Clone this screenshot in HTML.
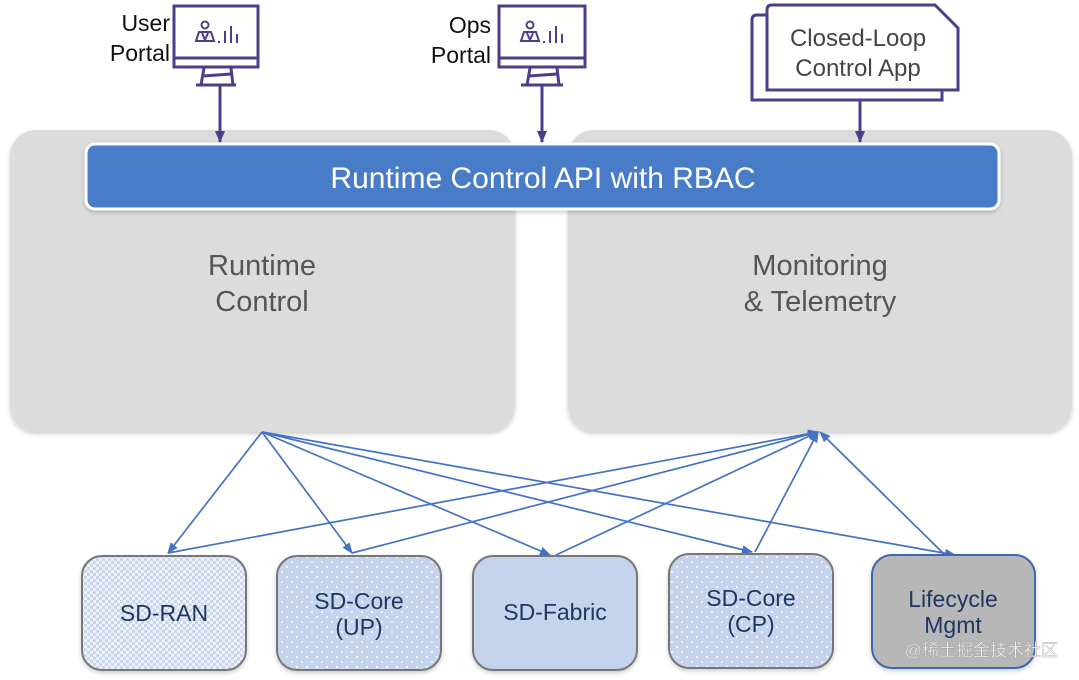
<!DOCTYPE html>
<html><head><meta charset="utf-8"><style>
html,body{margin:0;padding:0;background:#fff;width:1079px;height:680px;overflow:hidden}
</style></head><body>
<svg width="1079" height="680" viewBox="0 0 1079 680" xmlns="http://www.w3.org/2000/svg" font-family="Liberation Sans, sans-serif">
<defs>
<filter id="sh" x="-5%" y="-5%" width="110%" height="115%"><feDropShadow dx="0" dy="2" stdDeviation="2" flood-color="#000" flood-opacity="0.2"/></filter>
<pattern id="chk" width="6" height="6" patternUnits="userSpaceOnUse"><rect width="6" height="6" fill="#eef2fa"/><rect width="3" height="3" fill="#c9d6ee"/><rect x="3" y="3" width="3" height="3" fill="#c9d6ee"/></pattern>
<pattern id="dot" width="10" height="10" patternUnits="userSpaceOnUse"><rect width="10" height="10" fill="#c5d4ec"/><circle cx="2" cy="2" r="1" fill="#fff"/><circle cx="7" cy="7" r="1" fill="#fff"/></pattern>
<marker id="ab" markerWidth="11" markerHeight="9" refX="10" refY="4.5" orient="auto" markerUnits="userSpaceOnUse"><path d="M0,0 L11,4.5 L0,9 z" fill="#4472c4"/></marker>
<marker id="ap" markerWidth="12" markerHeight="10" refX="11" refY="5" orient="auto" markerUnits="userSpaceOnUse"><path d="M0,0 L12,5 L0,10 z" fill="#4f3d8a"/></marker>
</defs>
<rect x="10" y="130" width="505" height="302" rx="26" fill="#dcdcdc" filter="url(#sh)"/>
<rect x="568" y="130" width="504" height="302" rx="26" fill="#dcdcdc" filter="url(#sh)"/>
<rect x="86" y="144" width="913" height="65" rx="9" fill="#4a7cc8" stroke="#fff" stroke-width="3" filter="url(#sh)"/>
<text x="543" y="188" font-size="30" fill="#fff" text-anchor="middle">Runtime Control API with RBAC</text>
<g font-size="29" fill="#555" text-anchor="middle">
<text x="262" y="275">Runtime</text><text x="262" y="311">Control</text>
<text x="820" y="275">Monitoring</text><text x="820" y="311">&amp; Telemetry</text>
</g>
<g stroke="#4f3d8a" stroke-width="3" fill="#fff">
<rect x="174" y="6" width="84" height="61"/><line x1="174" y1="58" x2="258" y2="58"/>
<path d="M204,68 L201,85 M231,68 L233,85 M203,76 L231,74" fill="none"/><line x1="196" y1="85" x2="236" y2="85"/>
<rect x="499" y="6" width="86" height="61"/><line x1="499" y1="58" x2="585" y2="58"/>
<path d="M530,68 L527,85 M557,68 L559,85 M529,76 L557,74" fill="none"/><line x1="521" y1="85" x2="563" y2="85"/>
</g>
<g fill="none" stroke="#4f3d8a" stroke-width="2">
<circle cx="205" cy="25" r="3.5"/><path d="M196,41 L199,32 L211,32 L214,41 Z M202,33 L205,40 L208,33"/>
<path d="M219,43 v-2 M225,43 v-12 M231,43 v-17 M237,43 v-9"/>
<circle cx="530" cy="25" r="3.5"/><path d="M521,41 L524,32 L536,32 L539,41 Z M527,33 L530,40 L533,33"/>
<path d="M544,43 v-2 M550,43 v-12 M556,43 v-17 M562,43 v-9"/>
</g>
<g font-size="23" fill="#111" text-anchor="end">
<text x="170" y="31">User</text><text x="170" y="61">Portal</text>
<text x="491" y="33">Ops</text><text x="491" y="63">Portal</text>
</g>
<g stroke="#4f3d8a" stroke-width="3" fill="#fff">
<path d="M752,100 L752,20 Q752,15 757,15 L942,15 L942,100 Z"/>
<path d="M767,90 L767,10 Q767,5 772,5 L935,5 L958,28 L958,90 Z"/>
</g>
<g font-size="24" fill="#444" text-anchor="middle"><text x="858" y="46">Closed-Loop</text><text x="858" y="76">Control App</text></g>
<g stroke="#4f3d8a" stroke-width="3" marker-end="url(#ap)">
<line x1="220" y1="86" x2="220" y2="142"/><line x1="542" y1="86" x2="542" y2="142"/><line x1="860" y1="101" x2="860" y2="142"/>
</g>
<g stroke="#4472c4" stroke-width="1.7" fill="none" marker-end="url(#ab)">
<line x1="262" y1="432" x2="168" y2="553"/><line x1="262" y1="432" x2="352" y2="553"/>
<line x1="262" y1="432" x2="550" y2="555"/><line x1="262" y1="432" x2="752" y2="552"/>
<line x1="262" y1="432" x2="955" y2="555"/>
<line x1="168" y1="553" x2="818" y2="432"/><line x1="352" y1="553" x2="818" y2="432"/>
<line x1="556" y1="555" x2="818" y2="432"/><line x1="755" y1="552" x2="818" y2="432"/>
<line x1="945" y1="555" x2="820" y2="432"/>
</g>
<g stroke-width="2" filter="url(#sh)">
<rect x="82" y="556" width="164" height="114" rx="20" fill="url(#chk)" stroke="#777"/>
<rect x="277" y="556" width="164" height="114" rx="20" fill="url(#dot)" stroke="#777"/>
<rect x="473" y="556" width="164" height="114" rx="20" fill="#c5d4ec" stroke="#777"/>
<rect x="669" y="554" width="164" height="114" rx="20" fill="url(#dot)" stroke="#777"/>
<rect x="872" y="555" width="163" height="113" rx="20" fill="#b7b7b7" stroke="#3c67b0"/>
</g>
<g font-size="23" fill="#1f3660" text-anchor="middle">
<text x="164" y="621">SD-RAN</text>
<text x="359" y="609">SD-Core</text><text x="359" y="635">(UP)</text>
<text x="555" y="620">SD-Fabric</text>
<text x="751" y="606">SD-Core</text><text x="751" y="632">(CP)</text>
<text x="953" y="607">Lifecycle</text><text x="953" y="633">Mgmt</text>
</g>
<text x="1058" y="656" font-size="17" fill="#fff" stroke="#999" stroke-width="0.4" text-anchor="end" font-family="Liberation Sans, Noto Sans CJK SC, sans-serif" opacity="0.9">@稀土掘金技术社区</text>
</svg>
</body></html>
